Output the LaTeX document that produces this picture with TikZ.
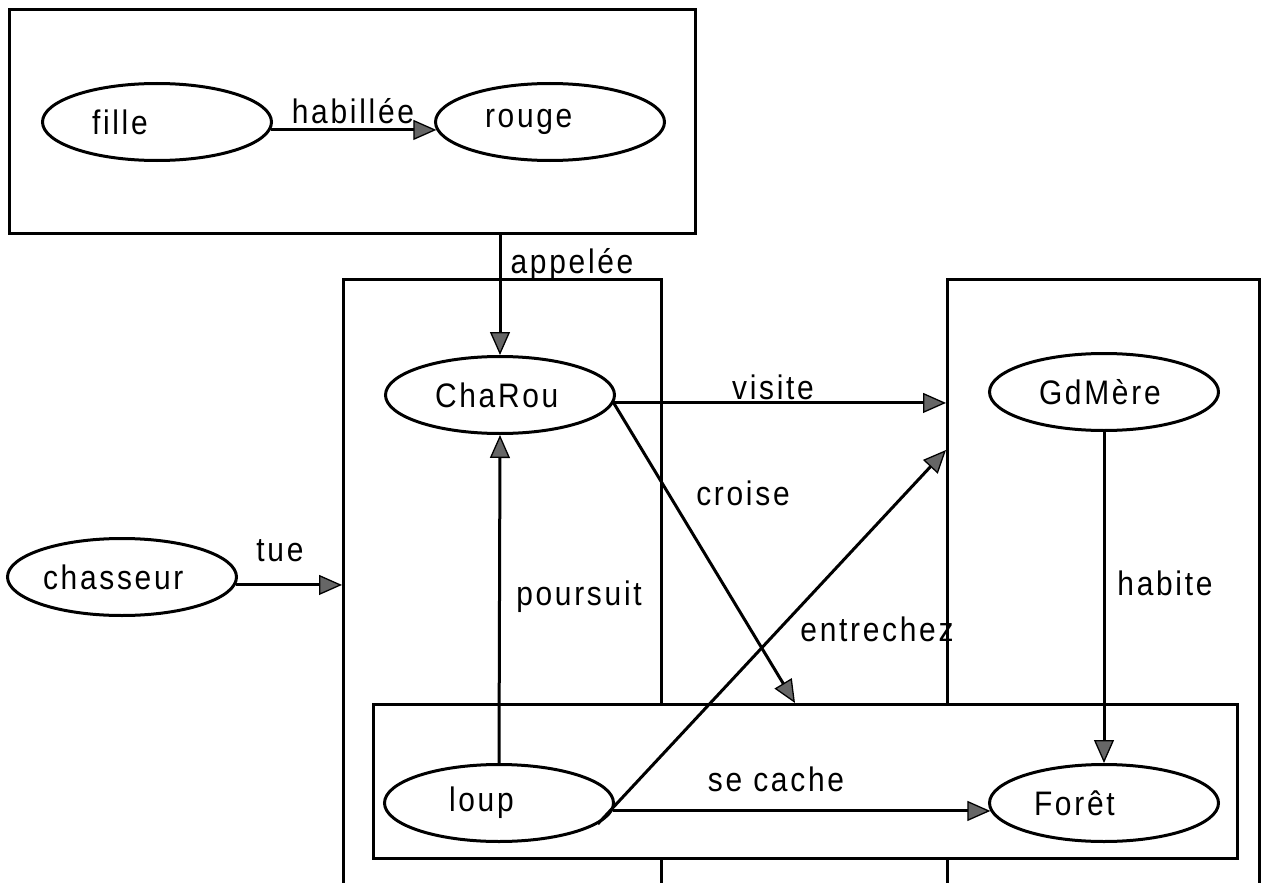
\documentclass[tikz,border=0pt]{standalone}
\usepackage{fontspec}
\setmainfont{Liberation Sans}[FakeStretch=0.88,LetterSpace=8]
\usetikzlibrary{arrows.meta,shapes.geometric}

\begin{document}
\begin{tikzpicture}[x=1pt,y=-1pt,
  every node/.style={font=\fontsize{34}{40}\selectfont},
  frame/.style={draw,line width=3pt,anchor=north west,inner sep=0pt},
  ent/.style={draw,ellipse,line width=3pt,fill=white,inner sep=0pt,
    minimum width=229pt,minimum height=77pt,text width=130pt,align=left},
  rel/.style={line width=3pt,
    -{Triangle[length=23pt,width=20pt,fill=black!60,line width=1.3pt]}},
  lab/.style={inner sep=0pt}]
\useasboundingbox (0,0) rectangle (1272,883);
\clip (0,0) rectangle (1272,883);

% frames
\node[frame,minimum width=686pt,minimum height=224pt] (topbox) at (8,8) {};
\node[frame,minimum width=318pt,minimum height=700pt] (midcol) at (342,278) {};
\node[frame,minimum width=312pt,minimum height=700pt] (rcol) at (946,278) {};
\node[frame,fill=white,minimum width=864pt,minimum height=154pt] (botbox) at (372,703) {};

% concepts
\node[ent] (fille) at (157,122) {fille};
\node[ent] (rouge) at (550,122) {rouge};
\node[ent] (charou) at (500,395) {ChaRou};
\node[ent] (gdmere) at (1104,392) {GdMère};
\node[ent,text width=100pt] (loup) at (499,803) {loup};
\node[ent,text width=140pt] (foret) at (1104,803) {Forêt};
\node[ent,text width=158pt] (chasseur) at (122,577) {chasseur};

\coordinate (croiseend) at (795,703);
\coordinate (entrend) at (946,450);

% relations
\draw[rel] (fille.-4) -- (rouge.184);
\draw[rel] (topbox.south -| charou.north) -- (charou.north);
\draw[rel] (charou.-4) -- (charou.-4 -| rcol.west);
\draw[rel] (charou.-4) -- (croiseend);
\draw[rel] (loup.north) -- (charou.south);
\draw[rel] (gdmere.south) -- (foret.north);
\draw[rel] (loup.-4) -- (foret.184);
\draw[rel] (loup.-12) -- (entrend);
\draw[rel] (chasseur.-4) -- (chasseur.-4 -| midcol.west);

% relation names
\node[lab] (lhab) at (353,111) {habillée};
\node[lab] (lapp) at (572,265) {appelée};
\node[lab] (lvis) at (773,387) {visite};
\node[lab] (lcro) at (743,493) {croise};
\node[lab] (lpou) at (579,597) {poursuit};
\node[lab] (lent) at (877,629) {entrechez};
\node[lab] (lhabite) at (1165,583) {habite};
\node[lab] (lsec) at (776,779) {se cache};
\node[lab] (ltue) at (280,551) {tue};
\end{tikzpicture}
\end{document}
